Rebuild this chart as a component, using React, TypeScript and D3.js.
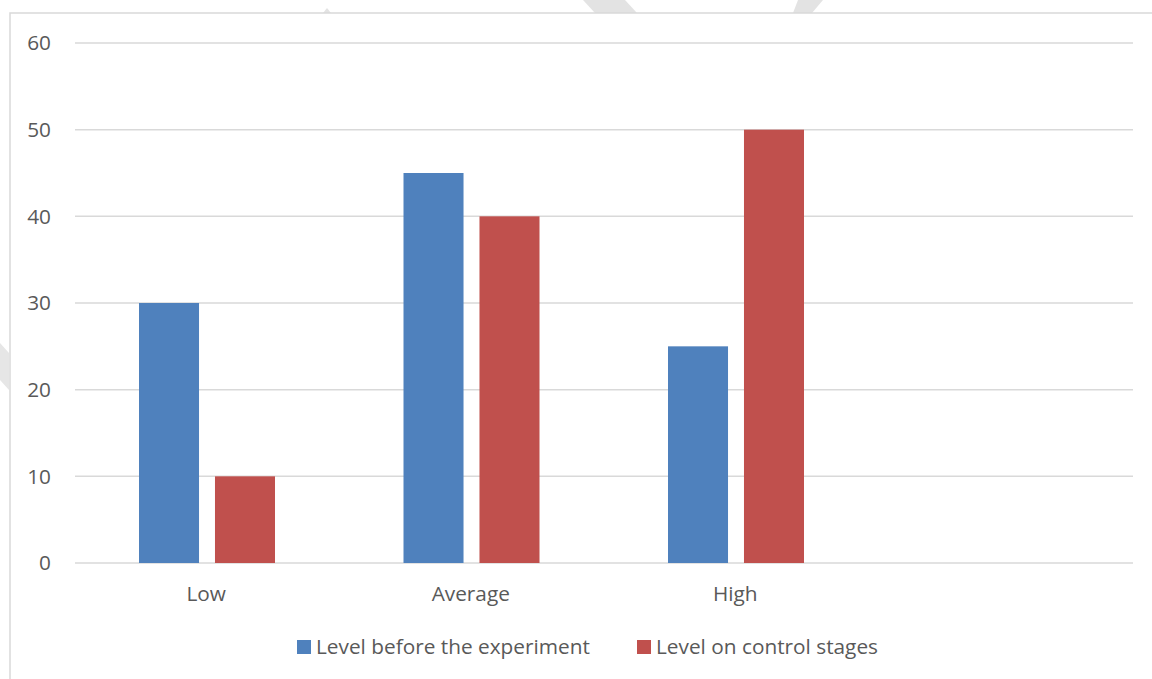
import React from "react";
import * as d3 from "d3";

const categories = ["Low", "Average", "High", ""];
const seriesNames = ["Level before the experiment", "Level on control stages"];
const beforeValues = [30, 45, 25, null];
const controlValues = [10, 40, 50, null];
const yTicks = [0, 10, 20, 30, 40, 50, 60];
const colors = ["#4f81bd", "#c0504d"];

const W = 1152;
const H = 679;
const FONT = "'Open Sans', sans-serif";
const TEXT = "#595959";
const GRID = "#d9d9d9";
const FS = 20.8;

export default function App() {
  const x0 = d3.scaleBand<string>().domain(categories).range([75, 1133]).padding(0);
  const x1 = d3.scaleBand<string>().domain(seriesNames).range([64, 200]).paddingInner(0.21).paddingOuter(0);
  const y = d3.scaleLinear().domain([0, 60]).range([563, 43]);
  const series = [beforeValues, controlValues];

  const legendItems = [
    { name: seriesNames[0], color: colors[0], x: 297 },
    { name: seriesNames[1], color: colors[1], x: 637 },
  ];

  return (
    <svg width={W} height={H} style={{ position: "absolute", left: 0, top: 0, background: "#fff" }} fontFamily={FONT}>
      <rect x={0} y={0} width={W} height={H} fill="#fff" />
      {/* watermark fragments */}
      <polygon points="583,0 625,0 637,13 595,13" fill="#e3e3e3" />
      <polygon points="798,0 823,0 812,13 793,13" fill="#e3e3e3" />
      <polygon points="323,13 327,8 331,13" fill="#e3e3e3" />
      <polygon points="0,343 9,353 9,390 0,380" fill="#e6e6e6" />
      {/* chart border */}
      <rect x={10} y={13} width={1200} height={700} fill="none" stroke={GRID} strokeWidth={1.5} />
      {/* gridlines */}
      {yTicks.map((t) => (
        <g key={t}>
          <line x1={75} x2={1133} y1={y(t)} y2={y(t)} stroke={GRID} strokeWidth={1.5} />
          <text x={51} y={y(t)} dy="0.36em" textAnchor="end" fontSize={FS} fill={TEXT}>
            {t}
          </text>
        </g>
      ))}
      {/* bars */}
      {categories.map((c, ci) => (
        <g key={ci} transform={`translate(${x0(c)},0)`}>
          {series.map((vals, si) => {
            const v = vals[ci];
            if (v == null) return null;
            return (
              <rect
                key={si}
                x={x1(seriesNames[si])}
                y={y(v)}
                width={x1.bandwidth()}
                height={y(0) - y(v)}
                fill={colors[si]}
              />
            );
          })}
          <text x={x0.bandwidth() / 2 - 1} y={601} textAnchor="middle" fontSize={FS} fill={TEXT}>
            {c}
          </text>
        </g>
      ))}
      {/* legend */}
      {legendItems.map((l) => (
        <g key={l.name}>
          <rect x={l.x} y={640} width={14} height={14} fill={l.color} />
          <text x={l.x + 19} y={654} fontSize={FS} fill={TEXT}>
            {l.name}
          </text>
        </g>
      ))}
    </svg>
  );
}
